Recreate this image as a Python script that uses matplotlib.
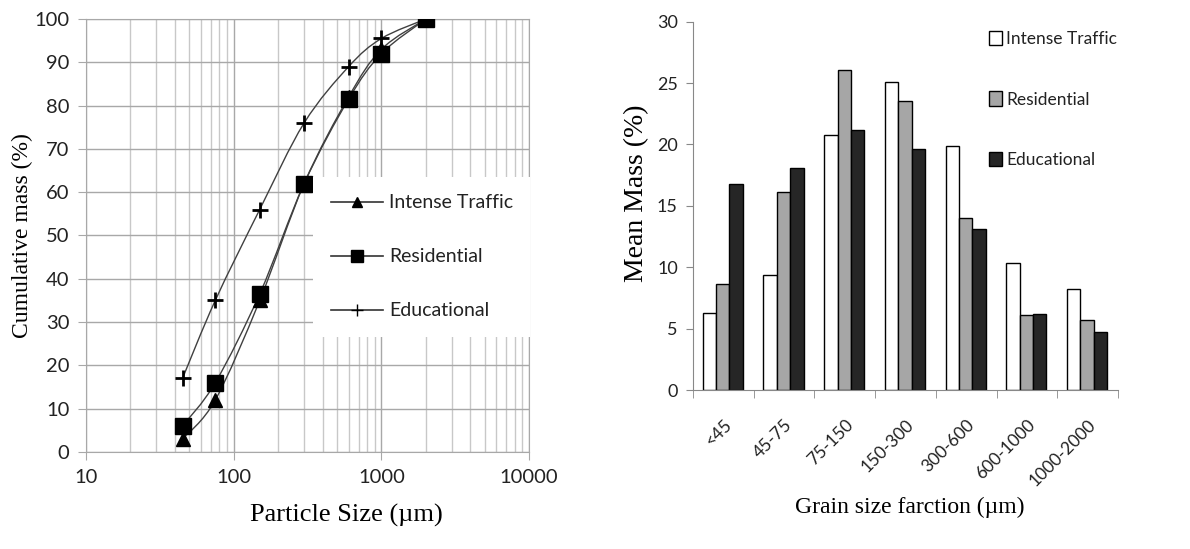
import numpy as np
import matplotlib
matplotlib.use("Agg")
import matplotlib.pyplot as plt
from matplotlib.path import Path
from matplotlib.patches import PathPatch
from matplotlib.lines import Line2D
from matplotlib.ticker import FixedLocator, NullFormatter

# ==========================================
# DATA
# ==========================================
sizes = [45, 75, 150, 300, 600, 1000, 2000]
cum_traffic = [3, 12, 35, 62, 82, 93, 100]
cum_residential = [6, 16, 36.5, 62, 81.5, 92, 100]
cum_educational = [17, 35, 56, 76, 89, 95.5, 100]

fractions = ["<45", "45-75", "75-150", "150-300", "300-600", "600-1000", "1000-2000"]
mass_traffic = [6.3, 9.4, 20.8, 25.1, 19.9, 10.35, 8.2]
mass_residential = [8.6, 16.1, 26.05, 23.55, 14.0, 6.15, 5.7]
mass_educational = [16.75, 18.05, 21.2, 19.6, 13.15, 6.2, 4.7]

SERIES = ["Intense Traffic", "Residential", "Educational"]

TICK_FONT = "Lato"
LABEL_FONT = "Liberation Serif"
LINE_COL = "#404040"


def smooth_path(xs, ys):
    # Excel-style smoothed line: cubic bezier through points, in log-x space
    lx = np.log10(xs)
    pts = np.column_stack([lx, ys])
    verts = [pts[0]]
    codes = [Path.MOVETO]
    n = len(pts)
    for i in range(n - 1):
        p0 = pts[max(i - 1, 0)]
        p1 = pts[i]
        p2 = pts[i + 1]
        p3 = pts[min(i + 2, n - 1)]
        c1 = p1 + (p2 - p0) / 6.0
        c2 = p2 - (p3 - p1) / 6.0
        verts += [c1, c2, p2]
        codes += [Path.CURVE4] * 3
    verts = np.array(verts)
    verts[:, 0] = 10 ** verts[:, 0]
    return Path(verts, codes)


fig = plt.figure(figsize=(11.9, 5.49), dpi=100)

# ==========================================
# LEFT: CUMULATIVE CURVES
# ==========================================
ax1 = fig.add_axes([0.0723, 0.1767, 0.3723, 0.7887])
ax1.set_xscale("log")
ax1.set_xlim(10, 10000)
ax1.set_ylim(0, 100)

ax1.xaxis.set_major_locator(FixedLocator([10, 100, 1000, 10000]))
ax1.set_xticklabels(["10", "100", "1000", "10000"])
minor = [m * d for d in [10, 100, 1000] for m in range(2, 10)]
ax1.xaxis.set_minor_locator(FixedLocator(minor))
ax1.xaxis.set_minor_formatter(NullFormatter())
ax1.set_yticks(range(0, 101, 10))

ax1.grid(True, which="major", color="#a8a8a8", linewidth=1.0)
ax1.grid(True, which="minor", axis="x", color="#c8c8c8", linewidth=1.0)
ax1.tick_params(which="major", length=6, color="#a8a8a8", labelsize=14.5,
                pad=6, labelcolor="#222222")
ax1.tick_params(which="minor", length=0)
for sp in ax1.spines.values():
    sp.set_color("#a8a8a8")
ax1.set_axisbelow(True)

markers = ["^", "s", "+"]
msizes = [10, 11, 11]
leg_sizes = [7, 9, 9]
handles = []
for ys, mk, ms, lms in zip([cum_traffic, cum_residential, cum_educational],
                           markers, msizes, leg_sizes):
    ax1.add_patch(PathPatch(smooth_path(sizes, ys), facecolor="none",
                            edgecolor=LINE_COL, linewidth=1.0, zorder=3))
    ax1.plot(sizes, ys, linestyle="none", marker=mk, markersize=ms,
             color="black", markeredgewidth=2 if mk == "+" else 1, zorder=4)
    handles.append(Line2D([], [], color="#333333", linewidth=1.2, marker=mk,
                          markersize=lms, markeredgewidth=1,
                          markerfacecolor="black", markeredgecolor="black"))

leg1 = ax1.legend(handles, SERIES, loc="upper left",
                  bbox_to_anchor=(313 / 1190, 1 - 177 / 549),
                  bbox_transform=fig.transFigure, frameon=True,
                  facecolor="white", edgecolor="none", framealpha=1,
                  fancybox=False, prop={"family": TICK_FONT, "size": 14},
                  handlelength=2.7, handletextpad=0.3, labelspacing=1.9,
                  borderpad=0.9, borderaxespad=0)
leg1.set_zorder(5)
for t in leg1.get_texts():
    t.set_color("#222222")

ax1.set_xlabel("Particle Size (\u00b5m)", family=LABEL_FONT, fontsize=19)
ax1.set_ylabel("Cumulative mass (%)", family=LABEL_FONT, fontsize=17)
ax1.xaxis.set_label_coords((346 - 86) / 443, -0.12)
ax1.yaxis.set_label_coords(-0.12, 0.5)
for lbl in ax1.get_xticklabels() + ax1.get_yticklabels():
    lbl.set_family(TICK_FONT)

# ==========================================
# RIGHT: BAR CHART
# ==========================================
ax2 = fig.add_axes([0.5824, 0.2896, 0.3571, 0.6709])
pos = np.arange(len(fractions))
w = 0.22
colors = ["white", "#a6a6a6", "#262626"]
for k, (vals, col, name) in enumerate(zip(
        [mass_traffic, mass_residential, mass_educational], colors, SERIES)):
    ax2.bar(pos + (k - 1) * w - 0.01, vals, width=w, color=col,
            edgecolor="black", linewidth=1.0, label=name)

ax2.set_xlim(-0.5, len(fractions) - 0.5)
ax2.set_ylim(0, 30)
ax2.set_yticks(range(0, 31, 5))
ax2.set_xticks(pos)
ax2.set_xticklabels(fractions, rotation=45, ha="right", va="top",
                    rotation_mode="anchor")
ax2.set_xticks(np.arange(-0.5, len(fractions), 1), minor=True)
ax2.tick_params(axis="x", which="major", length=0, pad=19, labelsize=12.5,
                labelcolor="#222222")
ax2.tick_params(axis="x", which="minor", length=6, color="#888888")
ax2.tick_params(axis="y", length=5, color="#888888", labelsize=13, pad=6,
                labelcolor="#222222")
ax2.spines["top"].set_visible(False)
ax2.spines["right"].set_visible(False)
ax2.spines["left"].set_color("#888888")
ax2.spines["bottom"].set_color("#888888")
for lbl in ax2.get_xticklabels() + ax2.get_yticklabels():
    lbl.set_family(TICK_FONT)

leg2 = ax2.legend(loc="upper left", bbox_to_anchor=(989 / 1190, 1 - 31 / 549),
                  bbox_transform=fig.transFigure, frameon=False,
                  prop={"family": TICK_FONT, "size": 12.5},
                  handlelength=0.75, handleheight=0.9, handletextpad=0.25,
                  labelspacing=2.55, borderaxespad=0, borderpad=0)
for t in leg2.get_texts():
    t.set_color("#222222")

ax2.set_xlabel("Grain size farction (\u00b5m)", family=LABEL_FONT, fontsize=17)
ax2.set_ylabel("Mean Mass (%)", family=LABEL_FONT, fontsize=20)
ax2.xaxis.set_label_coords(0.51, -0.29)
ax2.yaxis.set_label_coords(-0.104, 0.535)

fig.savefig("out.png", dpi=100)
